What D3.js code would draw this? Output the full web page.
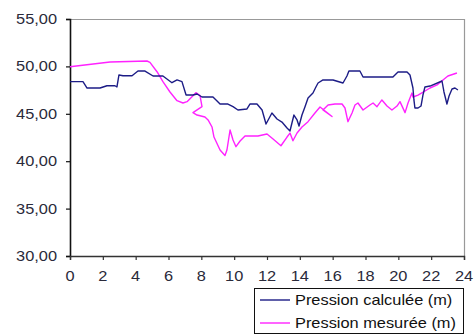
<!DOCTYPE html>
<html><head><meta charset="utf-8">
<script src="https://cdn.jsdelivr.net/npm/d3@7"></script>
<style>body{margin:0;background:#fff}svg{display:block}text{font-family:"Liberation Sans",Arial,sans-serif}</style>
</head><body>
<script>
const yTicks = [30, 35, 40, 45, 50, 55];
const xTicks = [0, 2, 4, 6, 8, 10, 12, 14, 16, 18, 20, 22, 24];
const seriesNames = ["Pression calculée (m)", "Pression mesurée (m)"];
const seriesColors = ["#1c1c86", "#ff22ff"];

const calcX = [0,0.79,1.04,1.83,2.25,2.74,2.86,2.98,3.23,3.78,4.14,4.57,5.06,5.66,6.21,6.52,6.82,7.07,7.49,7.74,8.04,8.71,9.14,9.62,9.93,10.23,10.78,10.96,11.39,11.70,11.94,12.30,12.61,12.91,13.22,13.40,13.64,13.83,13.95,14.13,14.31,14.50,14.80,14.98,15.11,15.41,16.02,16.63,16.87,16.99,17.66,17.85,19.67,19.98,20.53,20.71,20.89,20.95,21.01,21.20,21.38,21.50,21.62,21.93,22.66,22.78,22.96,23.09,23.27,23.45,23.63];
const calcY = [48.39,48.39,47.72,47.72,47.96,47.96,47.83,49.09,49.02,49.02,49.51,49.51,48.99,48.99,48.28,48.57,48.39,46.98,46.98,47.09,46.77,46.77,46.03,46.03,45.75,45.40,45.51,46.03,46.03,45.40,43.92,45.08,44.45,44.13,43.50,43.19,44.87,44.35,43.71,44.87,45.72,46.67,47.19,47.83,48.25,48.57,48.57,48.25,48.99,49.51,49.51,48.88,48.88,49.41,49.41,49.09,47.72,46.46,45.61,45.61,45.82,46.98,47.83,47.93,48.46,47.30,46.03,46.88,47.62,47.72,47.51];

const mesX = [0,2.44,4.69,4.87,5.30,5.66,6.09,6.52,6.88,7.13,7.67,7.92,8.04,7.49,7.74,8.22,8.41,8.65,8.77,9.14,9.44,9.56,9.75,9.93,10.11,10.36,10.66,11.45,12.00,12.37,12.85,13.22,13.40,13.58,13.83,14.13,14.50,14.92,15.23,15.96,15.41,15.72,16.14,16.57,16.75,16.93,17.18,17.36,17.54,17.85,18.27,18.46,18.70,19.00,19.31,19.61,19.92,20.10,20.41,20.59,20.83,20.89,21.20,21.93,22.36,22.72,23.02,23.57];
const mesY = [49.97,50.46,50.57,50.43,49.44,48.39,47.30,46.38,46.14,46.28,47.23,46.93,45.75,45.12,44.87,44.66,44.35,43.61,42.55,41.18,40.60,41.18,43.29,42.24,41.53,42.13,42.66,42.66,42.87,42.34,41.63,42.55,42.97,42.16,42.97,43.61,44.17,45.08,45.72,44.72,45.40,45.93,46.03,46.03,45.61,44.17,45.08,45.93,46.14,45.40,45.93,46.14,45.75,46.46,45.82,45.40,45.82,46.28,45.12,46.14,47.19,46.77,46.98,47.72,48.04,48.57,48.99,49.30];

const W = 475, H = 334;
const L = 70, R = 464, T = 19, B = 256;
const SX = 1.17; // horizontal text stretch

const svg = d3.select("body").append("svg").attr("width", W).attr("height", H);
const x = d3.scaleLinear().domain([0, 24]).range([L, R]);
const y = d3.scaleLinear().domain([30, 55]).range([B, T]);

// frame top & right
svg.append("path").attr("d", `M${L},${T+0.5}H${R+0.5}V${B}`).attr("fill", "none").attr("stroke", "#999").attr("stroke-width", 1.2);

// y axis
const ya = svg.append("g").attr("transform", `translate(${L},0)`)
  .call(d3.axisLeft(y).tickValues(yTicks).tickSize(4).tickFormat(""));
ya.select(".domain").attr("stroke", "#111").attr("stroke-width", 1.6);
ya.selectAll(".tick line").attr("stroke", "#111").attr("stroke-width", 1.2);
// x axis
const xa = svg.append("g").attr("transform", `translate(0,${B})`)
  .call(d3.axisBottom(x).tickValues(xTicks).tickSize(4).tickFormat(""));
xa.select(".domain").attr("stroke", "#333").attr("stroke-width", 1.4);
xa.selectAll(".tick line").attr("stroke", "#333").attr("stroke-width", 1.2);

// y tick labels
yTicks.forEach(v => {
  svg.append("g").attr("transform", `translate(57,${y(v)+5}) scale(${SX},1)`)
    .append("text").attr("text-anchor", "end").attr("font-size", 14).attr("fill", "#2a2a3a")
    .text(d3.format(".2f")(v).replace(".", ","));
});
xTicks.forEach(v => {
  svg.append("g").attr("transform", `translate(${x(v)},281) scale(${SX},1)`)
    .append("text").attr("text-anchor", "middle").attr("font-size", 14).attr("fill", "#2a2a3a")
    .text(v);
});

const line = d3.line().x(d => x(d[0])).y(d => y(d[1]));
const calc = calcX.map((v, i) => [v, calcY[i]]);
const mes = mesX.map((v, i) => [v, mesY[i]]);
svg.append("path").datum(mes).attr("d", line).attr("fill", "none").attr("stroke", seriesColors[1]).attr("stroke-width", 1.4).attr("stroke-linejoin", "round");
svg.append("path").datum(calc).attr("d", line).attr("fill", "none").attr("stroke", seriesColors[0]).attr("stroke-width", 1.4).attr("stroke-linejoin", "round");

// legend
const lg = svg.append("g");
lg.append("rect").attr("x", 254.5).attr("y", 288.5).attr("width", 209).attr("height", 45)
  .attr("fill", "#fff").attr("stroke", "#111").attr("stroke-width", 1);
seriesNames.forEach((n, i) => {
  const yy = 300 + i * 23;
  lg.append("line").attr("x1", 260).attr("x2", 290).attr("y1", yy).attr("y2", yy)
    .attr("stroke", seriesColors[i]).attr("stroke-width", 1.4);
  lg.append("g").attr("transform", `translate(295,${yy+5}) scale(${SX},1)`)
    .append("text").attr("font-size", 14).attr("fill", "#111").text(n);
});
</script>
</body></html>
